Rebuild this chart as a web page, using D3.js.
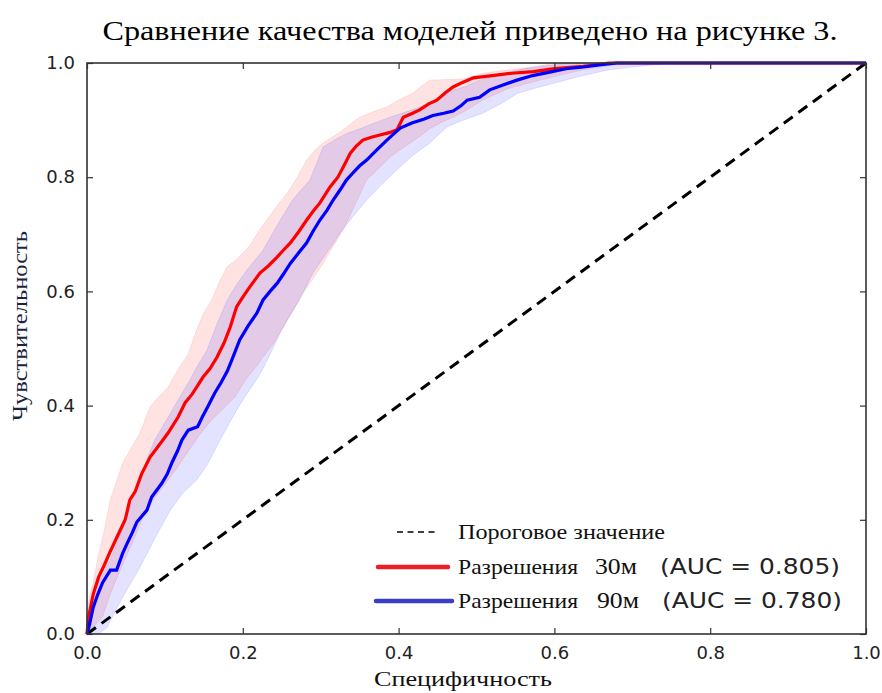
<!DOCTYPE html>
<html><head><meta charset="utf-8">
<script src="https://cdn.jsdelivr.net/npm/d3@7"></script>
<style>body{margin:0;background:#fff}svg{display:block}</style>
</head><body>
<svg id="c" width="882" height="693"></svg>
<script>
const titleText = "Сравнение качества моделей приведено на рисунке 3.";
const xLabel = "Специфичность";
const yLabel = "Чувствительность";
const tickValues = [0, 0.2, 0.4, 0.6, 0.8, 1.0];
const tickLabels = ["0.0", "0.2", "0.4", "0.6", "0.8", "1.0"];
const legendLabels = ["Пороговое значение", "Разрешения", "Разрешения"];
const legendRes = ["30м", "90м"];
const legendAuc = ["(AUC = 0.805)", "(AUC = 0.780)"];

const diagX = [0, 1];
const diagY = [0, 1];

const redX = [0,0.002,0.008,0.015,0.022,0.03,0.042,0.049,0.055,0.062,0.07,0.081,0.091,0.104,0.117,0.126,0.135,0.142,0.149,0.158,0.167,0.176,0.184,0.192,0.2,0.209,0.222,0.233,0.244,0.252,0.261,0.272,0.282,0.29,0.299,0.312,0.322,0.329,0.338,0.346,0.354,0.365,0.376,0.388,0.398,0.406,0.418,0.427,0.438,0.449,0.46,0.47,0.482,0.496,0.52,0.545,0.573,0.6,0.637,0.67,1];
const redY = [0,0.03,0.07,0.1,0.12,0.145,0.18,0.2,0.235,0.25,0.28,0.31,0.328,0.352,0.38,0.405,0.42,0.435,0.45,0.465,0.485,0.51,0.538,0.573,0.59,0.608,0.632,0.645,0.66,0.672,0.685,0.705,0.725,0.74,0.755,0.783,0.8,0.818,0.842,0.855,0.865,0.87,0.874,0.878,0.883,0.905,0.912,0.918,0.928,0.935,0.948,0.958,0.966,0.974,0.978,0.982,0.985,0.99,0.994,1,1];

const blueX = [0,0.003,0.008,0.014,0.02,0.03,0.038,0.046,0.052,0.058,0.064,0.077,0.083,0.096,0.103,0.109,0.116,0.122,0.13,0.142,0.148,0.155,0.164,0.172,0.18,0.186,0.196,0.207,0.218,0.226,0.235,0.244,0.252,0.261,0.272,0.282,0.29,0.299,0.308,0.316,0.325,0.333,0.341,0.35,0.359,0.372,0.385,0.393,0.402,0.417,0.433,0.444,0.458,0.47,0.48,0.488,0.504,0.517,0.535,0.552,0.572,0.594,0.615,0.637,0.66,0.68,1];
const blueY = [0,0.015,0.047,0.07,0.09,0.112,0.112,0.142,0.16,0.177,0.196,0.217,0.24,0.264,0.28,0.3,0.32,0.34,0.357,0.363,0.38,0.398,0.422,0.44,0.46,0.48,0.515,0.54,0.562,0.585,0.6,0.614,0.63,0.649,0.668,0.685,0.705,0.725,0.742,0.76,0.778,0.795,0.807,0.82,0.83,0.848,0.865,0.875,0.886,0.895,0.902,0.908,0.912,0.916,0.925,0.935,0.94,0.953,0.962,0.97,0.978,0.984,0.99,0.993,0.997,1,1];

const redUpX = [0,0,0.004,0.008,0.015,0.022,0.03,0.046,0.068,0.081,0.094,0.103,0.119,0.13,0.14,0.149,0.16,0.171,0.18,0.193,0.209,0.22,0.231,0.244,0.257,0.27,0.282,0.293,0.303,0.317,0.329,0.34,0.35,0.368,0.385,0.4,0.418,0.43,0.44,0.483,0.508,0.54,0.573,0.6,1];
const redUpY = [0,0.04,0.07,0.09,0.14,0.18,0.235,0.3,0.352,0.398,0.418,0.43,0.468,0.49,0.53,0.56,0.585,0.62,0.643,0.657,0.68,0.705,0.725,0.75,0.772,0.8,0.83,0.848,0.86,0.872,0.883,0.895,0.905,0.915,0.923,0.935,0.947,0.96,0.97,0.972,0.982,0.988,0.993,1,1];
const redLoX = [0,0.02,0.03,0.042,0.06,0.072,0.085,0.1,0.115,0.13,0.145,0.16,0.175,0.19,0.205,0.218,0.226,0.24,0.252,0.265,0.277,0.29,0.303,0.312,0.321,0.333,0.345,0.359,0.374,0.389,0.402,0.415,0.428,0.44,0.455,0.47,0.488,0.508,0.54,0.573,0.605,0.637,0.67,0.7,1];
const redLoY = [0,0.03,0.07,0.11,0.165,0.205,0.235,0.262,0.29,0.32,0.35,0.375,0.395,0.415,0.448,0.47,0.485,0.51,0.538,0.568,0.597,0.622,0.649,0.67,0.69,0.72,0.755,0.795,0.815,0.835,0.848,0.86,0.872,0.885,0.896,0.905,0.918,0.935,0.955,0.967,0.978,0.988,0.995,1,1];

const blueUpX = [0,0,0.005,0.015,0.03,0.05,0.065,0.075,0.087,0.1,0.117,0.13,0.142,0.154,0.166,0.18,0.192,0.205,0.226,0.248,0.264,0.275,0.286,0.295,0.303,0.32,0.334,0.347,0.36,0.375,0.393,0.418,0.444,0.465,0.488,0.504,0.53,0.56,0.6,0.62,1];
const blueUpY = [0,0.03,0.05,0.09,0.13,0.2,0.26,0.3,0.34,0.37,0.41,0.44,0.47,0.497,0.54,0.585,0.612,0.637,0.672,0.725,0.76,0.778,0.795,0.825,0.853,0.867,0.877,0.883,0.89,0.898,0.907,0.918,0.932,0.95,0.96,0.97,0.98,0.99,0.997,1,1];
const blueLoX = [0,0.015,0.026,0.038,0.051,0.068,0.088,0.107,0.123,0.141,0.155,0.171,0.185,0.2,0.215,0.225,0.235,0.248,0.257,0.272,0.29,0.308,0.325,0.342,0.359,0.378,0.398,0.418,0.44,0.462,0.483,0.508,0.533,0.553,0.573,0.6,0.637,0.67,0.7,0.75,1];
const blueLoY = [0,0,0.012,0.045,0.077,0.117,0.17,0.217,0.247,0.27,0.298,0.34,0.375,0.41,0.44,0.462,0.49,0.527,0.55,0.583,0.632,0.668,0.702,0.732,0.76,0.787,0.813,0.838,0.86,0.888,0.9,0.912,0.93,0.947,0.955,0.965,0.978,0.988,0.993,1,1];

const svg = d3.select("#c");
const L = 87, T = 63, W = 779, H = 571;
const x = d3.scaleLinear().domain([0,1]).range([L, L+W]);
const y = d3.scaleLinear().domain([0,1]).range([T+H, T]);
const zip = (a,b) => a.map((v,i)=>[v,b[i]]);
const line = d3.line().x(d=>x(d[0])).y(d=>y(d[1]));

const g = svg.append("g");
function band(ux,uy,lx,ly,col){
  const pts = zip(ux,uy).concat(zip(lx,ly).reverse());
  g.append("path").attr("d", line(pts)+"Z")
    .attr("fill", col).attr("fill-opacity", 0.11)
    .attr("stroke", col).attr("stroke-opacity", 0.1).attr("stroke-width", 1);
}
band(redUpX, redUpY, redLoX, redLoY, "#ff0000");
band(blueUpX, blueUpY, blueLoX, blueLoY, "#0000ff");

g.append("path").attr("d", line(zip(diagX, diagY)))
  .attr("fill","none").attr("stroke","#000").attr("stroke-width",3)
  .attr("stroke-dasharray","11,7");
g.append("path").attr("d", line(zip(redX, redY)))
  .attr("fill","none").attr("stroke","#ff0000").attr("stroke-width",3.2).attr("stroke-linejoin","miter");
g.append("path").attr("d", line(zip(blueX, blueY)))
  .attr("fill","none").attr("stroke","#0000ff").attr("stroke-width",3.2).attr("stroke-linejoin","miter");

// axes
const fmt = (d)=>tickLabels[tickValues.indexOf(d)];
const ax = [
  [d3.axisBottom(x), `translate(0,${T+H})`, true],
  [d3.axisTop(x), `translate(0,${T})`, false],
  [d3.axisLeft(y), `translate(${L},0)`, true],
  [d3.axisRight(y), `translate(${L+W},0)`, false]
];
ax.forEach(([a, tr, lab])=>{
  a.tickValues(tickValues).tickSizeInner(-6).tickSizeOuter(0).tickPadding(lab ? 12 : 0)
   .tickFormat(lab ? fmt : "");
  const ga = svg.append("g").attr("transform", tr).call(a);
  ga.select(".domain").remove();
  ga.selectAll("line").attr("stroke","#333").attr("stroke-width",1.2);
  ga.selectAll("text").attr("font-family","DejaVu Sans").attr("font-size",18).attr("fill","#222");
});
svg.append("rect").attr("x",L).attr("y",T).attr("width",W).attr("height",H)
  .attr("fill","none").attr("stroke","#333").attr("stroke-width",1.6);

// title & labels
svg.append("text").attr("x",470).attr("y",40).attr("text-anchor","middle")
  .attr("font-family","Liberation Serif").attr("font-size",27).attr("fill","#000")
  .attr("textLength",735).attr("lengthAdjust","spacingAndGlyphs").text(titleText);
svg.append("text").attr("x",463).attr("y",686).attr("text-anchor","middle")
  .attr("font-family","Liberation Serif").attr("font-size",22).attr("fill","#111")
  .attr("textLength",178).attr("lengthAdjust","spacingAndGlyphs").text(xLabel);
svg.append("text").attr("transform","translate(27,326) rotate(-90)").attr("text-anchor","middle")
  .attr("font-family","Liberation Serif").attr("font-size",21).attr("fill","#1a2340")
  .attr("textLength",190).attr("lengthAdjust","spacingAndGlyphs").text(yLabel);

// legend
const lg = svg.append("g");
lg.append("line").attr("x1",397).attr("x2",439).attr("y1",532).attr("y2",532)
  .attr("stroke","#000").attr("stroke-width",1.5).attr("stroke-dasharray","6,4.5");
lg.append("text").attr("x",458).attr("y",539).attr("font-family","Liberation Serif")
  .attr("font-size",21).attr("fill","#111")
  .attr("textLength",207).attr("lengthAdjust","spacingAndGlyphs").text(legendLabels[0]);
const lc = ["#ee1c25", "#3a3fc8"];
const ly = [567, 601];
[0,1].forEach(i=>{
  lg.append("line").attr("x1",378 - i*2).attr("x2",448 + i*4).attr("y1",ly[i]).attr("y2",ly[i])
    .attr("stroke",lc[i]).attr("stroke-width",4.5).attr("stroke-linecap","round");
  lg.append("text").attr("x",458).attr("y",ly[i]+7).attr("font-family","Liberation Serif")
    .attr("font-size",21).attr("fill","#111")
    .attr("textLength",120).attr("lengthAdjust","spacingAndGlyphs").text(legendLabels[i+1]);
  lg.append("text").attr("x",i ? 597 : 595).attr("y",ly[i]+7).attr("font-family","Liberation Serif")
    .attr("font-size",23).attr("fill","#111")
    .attr("textLength",42).attr("lengthAdjust","spacingAndGlyphs").text(legendRes[i]);
  lg.append("text").attr("x",i ? 662 : 660).attr("y",ly[i]+7).attr("font-family","DejaVu Sans")
    .attr("font-size",21).attr("fill","#222")
    .attr("textLength",180).attr("lengthAdjust","spacingAndGlyphs").text(legendAuc[i]);
});
</script>
</body></html>
